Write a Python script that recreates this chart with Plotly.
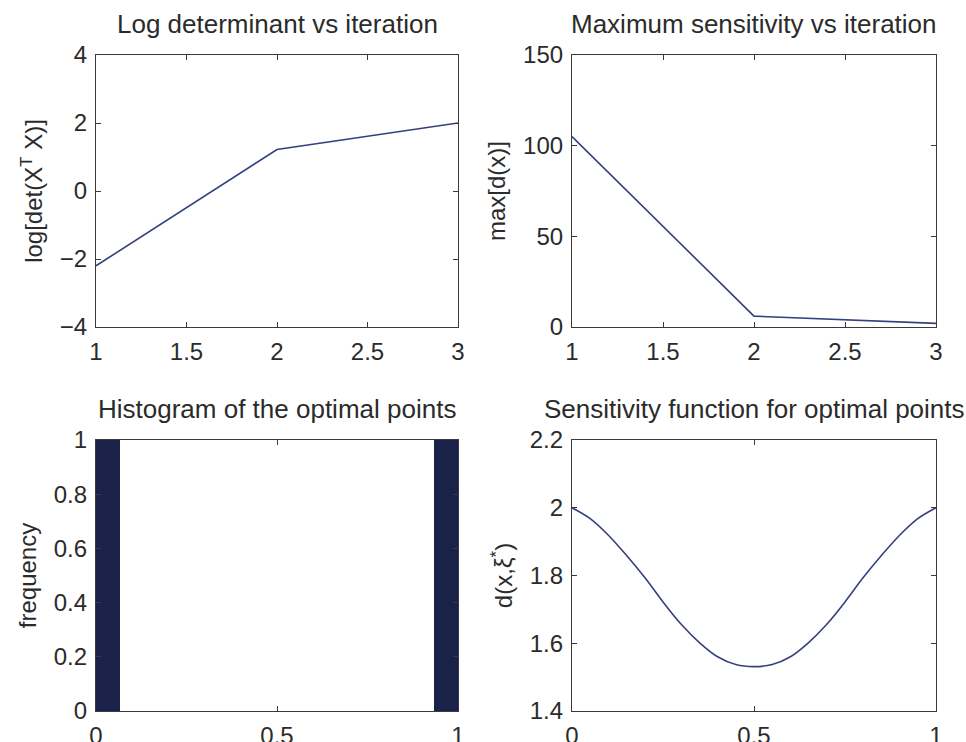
import plotly.graph_objects as go

# ---- data ----
iterations = [1, 2, 3]
log_det = [-2.2, 1.22, 2.0]
max_sens = [105, 6, 2]

hist_centers = [1/30, 29/30]
hist_freq = [1, 1]
hist_width = 1/15

sens_x = [0.0, 0.05, 0.10, 0.15, 0.20, 0.25, 0.30, 0.35, 0.40, 0.45, 0.50,
          0.55, 0.60, 0.65, 0.70, 0.75, 0.80, 0.85, 0.90, 0.95, 1.0]
sens_y = [2.00, 1.968, 1.919, 1.859, 1.794, 1.722, 1.656, 1.602, 1.560, 1.537, 1.531,
          1.537, 1.560, 1.602, 1.656, 1.722, 1.794, 1.859, 1.919, 1.968, 2.00]

titles = ["Log determinant vs iteration", "Maximum sensitivity vs iteration",
          "Histogram of the optimal points", "Sensitivity function for optimal points"]

LINE = "#34407f"
BAR = "#1b2249"
AX = "#3a3a3a"
TXT = "#2b2b2b"
FONT = "Liberation Sans, Arial, sans-serif"

fig = go.Figure()
fig.add_trace(go.Scatter(x=iterations, y=log_det, mode="lines", line=dict(color=LINE, width=1.6),
                         xaxis="x", yaxis="y", showlegend=False))
fig.add_trace(go.Scatter(x=iterations, y=max_sens, mode="lines", line=dict(color=LINE, width=1.6),
                         xaxis="x2", yaxis="y2", showlegend=False))
fig.add_trace(go.Bar(x=hist_centers, y=hist_freq, width=hist_width, marker=dict(color=BAR, line=dict(width=0)),
                     xaxis="x3", yaxis="y3", showlegend=False))
fig.add_trace(go.Scatter(x=sens_x, y=sens_y, mode="lines", line=dict(color=LINE, width=1.6, shape="spline"),
                         xaxis="x4", yaxis="y4", showlegend=False))

xd_left = [96/966, 458/966]
xd_right = [572/966, 936/966]
yd_top = [(742-327)/742, (742-55)/742]
yd_bot = [(742-711)/742, (742-440)/742]

def ax(domain, anchor, rng, tickvals, title=None, standoff=10):
    d = dict(domain=domain, anchor=anchor, range=rng, tickvals=tickvals,
             automargin=False,
             showline=True, linecolor=AX, linewidth=1.2, mirror="ticks",
             ticks="inside", ticklen=5, tickcolor=AX, tickwidth=1,
             showgrid=False, zeroline=False, ticklabelstandoff=3,
             tickfont=dict(family=FONT, size=24, color=TXT))
    if title is not None:
        d["title"] = dict(text=title, font=dict(family=FONT, size=24, color=TXT), standoff=standoff)
    return d

fig.update_layout(
    width=966, height=742,
    margin=dict(l=0, r=0, t=0, b=0, autoexpand=False),
    paper_bgcolor="white", plot_bgcolor="white",
    bargap=0,
    xaxis=ax(xd_left, "y", [1, 3], [1, 1.5, 2, 2.5, 3]),
    yaxis=ax(yd_top, "x", [-4, 4], [-4, -2, 0, 2, 4], title="log[det(X<sup>T</sup> X)]"),
    xaxis2=ax(xd_right, "y2", [1, 3], [1, 1.5, 2, 2.5, 3]),
    yaxis2=ax(yd_top, "x2", [0, 150], [0, 50, 100, 150], title="max[d(x)]"),
    xaxis3=ax(xd_left, "y3", [0, 1], [0, 0.5, 1]),
    yaxis3=ax(yd_bot, "x3", [0, 1], [0, 0.2, 0.4, 0.6, 0.8, 1], title="frequency"),
    xaxis4=ax(xd_right, "y4", [0, 1], [0, 0.5, 1]),
    yaxis4=ax(yd_bot, "x4", [1.4, 2.2], [1.4, 1.6, 1.8, 2, 2.2], title="d(x,ξ<sup>*</sup>)"),
)

centers = [(xd_left, yd_top), (xd_right, yd_top), (xd_left, yd_bot), (xd_right, yd_bot)]
for t, (xd, yd) in zip(titles, centers):
    fig.add_annotation(text=t, xref="paper", yref="paper",
                       x=(xd[0]+xd[1])/2, y=yd[1] + 14/742, xanchor="center", yanchor="bottom",
                       showarrow=False, font=dict(family=FONT, size=26, color=TXT))

fig.write_html("out.html")
